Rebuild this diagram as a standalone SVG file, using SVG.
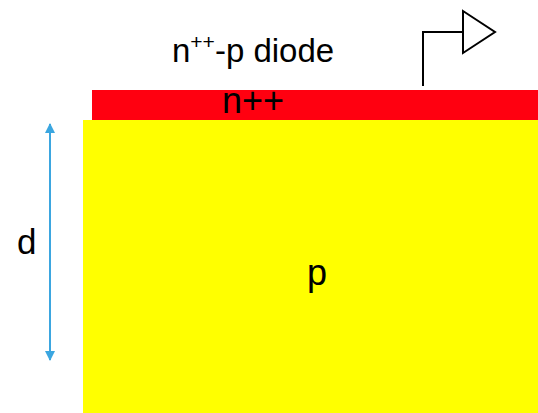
<svg xmlns="http://www.w3.org/2000/svg" width="538" height="413" viewBox="0 0 538 413">
<style>
.t{font-family:"Liberation Sans",Arial,sans-serif;fill:#000}
.sym{fill:none;stroke:#000;stroke-width:2}
</style>
<defs>
<marker id="ah" viewBox="0 0 10 10" refX="9" refY="5" markerWidth="10" markerHeight="10" markerUnits="userSpaceOnUse" orient="auto-start-reverse">
<path d="M0,0 L10,5 L0,10 Z" fill="#3ba6e0"/>
</marker>
</defs>
<rect width="538" height="413" fill="#fff"/>
<g id="p-region">
<rect x="83" y="120" width="455" height="293" fill="#ffff00"/>
<text class="t" x="317" y="285" font-size="36" text-anchor="middle">p</text>
</g>
<g id="n-region">
<rect x="92" y="90" width="446" height="30" fill="#ff0010"/>
<text class="t" x="222" y="113" font-size="36">n++</text>
</g>
<g id="title">
<text class="t" x="172" y="62" font-size="33">n<tspan font-size="21" dy="-13">++</tspan><tspan dy="13">-p diode</tspan></text>
</g>
<g id="fin-symbol">
<polyline class="sym" points="423,86 423,32 463,32"/>
<polygon class="sym" points="463,11 463,53 495,32"/>
</g>
<g id="connectors">
<line x1="50" y1="124" x2="50" y2="360" stroke="#3ba6e0" stroke-width="2" marker-start="url(#ah)" marker-end="url(#ah)"/>
<text class="t" x="17" y="254" font-size="35">d</text>
</g>
</svg>
